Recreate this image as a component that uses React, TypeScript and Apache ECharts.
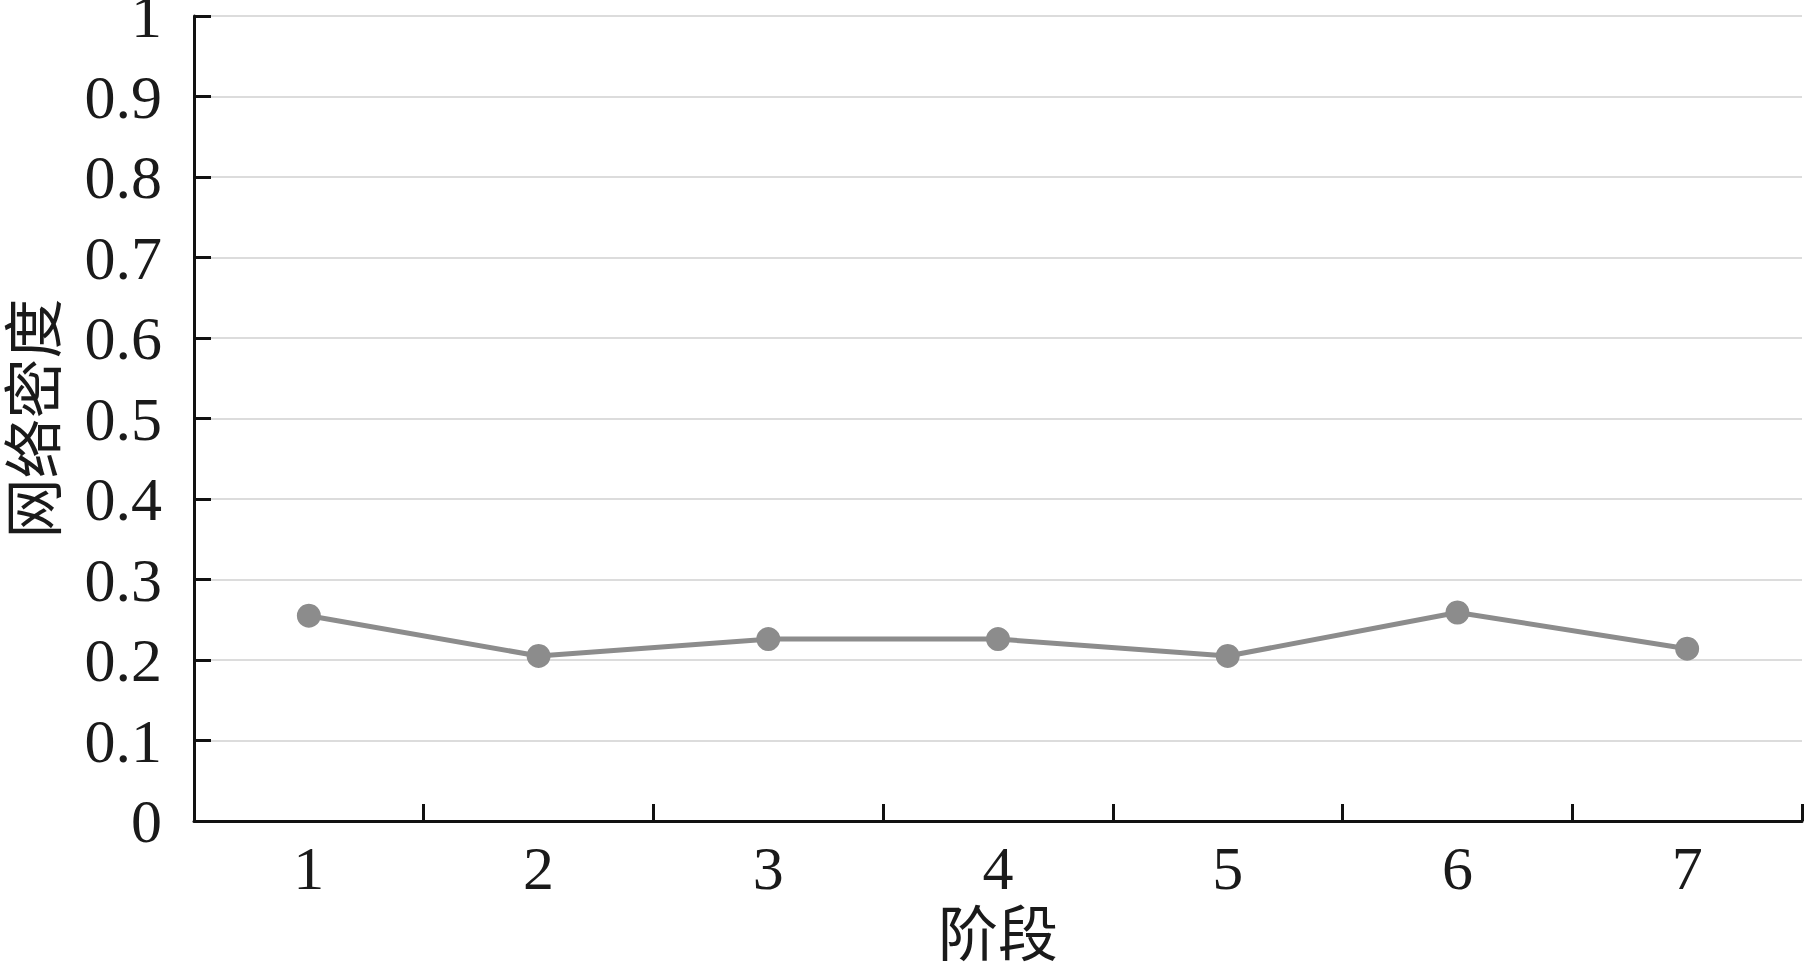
import React, { useEffect, useRef } from "react";
import * as echarts from "echarts";

const categories = ["1", "2", "3", "4", "5", "6", "7"];
const densityValues = [0.255, 0.205, 0.226, 0.226, 0.205, 0.259, 0.214];
const yTicks = [0, 0.1, 0.2, 0.3, 0.4, 0.5, 0.6, 0.7, 0.8, 0.9, 1];

const FONT = "'Liberation Serif', 'Noto Sans CJK SC', serif";

export default function App() {
  const ref = useRef<HTMLDivElement>(null);
  useEffect(() => {
    if (!ref.current) return;
    const chart = echarts.init(ref.current, null, { renderer: "svg" });
    chart.setOption({
      animation: false,
      backgroundColor: "#ffffff",
      grid: {
        left: 194,
        right: 9,
        top: 16,
        bottom: 152,
        containLabel: false,
        outerBoundsMode: "none",
      },
      xAxis: {
        type: "category",
        data: categories,
        boundaryGap: true,
        name: "阶段",
        nameLocation: "middle",
        nameGap: 85,
        nameTextStyle: { fontFamily: FONT, fontSize: 60, color: "#1a1a1a" },
        axisLine: { lineStyle: { color: "#111", width: 3 } },
        axisTick: { show: true, inside: true, length: 17, lineStyle: { color: "#111", width: 3 } },
        axisLabel: { fontFamily: FONT, fontSize: 62, color: "#1a1a1a", margin: 16 },
        splitLine: { show: false },
      },
      yAxis: {
        type: "value",
        min: yTicks[0],
        max: yTicks[yTicks.length - 1],
        interval: 0.1,
        name: "网络密度",
        nameLocation: "middle",
        nameRotate: 90,
        nameGap: 128,
        nameTextStyle: { fontFamily: FONT, fontSize: 60, color: "#1a1a1a" },
        axisLine: { show: true, lineStyle: { color: "#111", width: 3 } },
        axisTick: { show: true, inside: true, length: 17, lineStyle: { color: "#111", width: 3 } },
        axisLabel: {
          fontFamily: FONT,
          fontSize: 62,
          color: "#1a1a1a",
          margin: 32,
          formatter: (v: number) => String(Math.round(v * 10) / 10),
        },
        splitLine: { show: true, lineStyle: { color: "#dcdcdc", width: 2 } },
      },
      series: [
        {
          type: "line",
          data: densityValues,
          symbol: "circle",
          symbolSize: 24,
          lineStyle: { color: "#8c8c8c", width: 5 },
          itemStyle: { color: "#8c8c8c" },
        },
      ],
    });
    return () => chart.dispose();
  }, []);
  return (
    <div
      ref={ref}
      style={{ position: "fixed", left: 0, top: 0, width: 1811, height: 973, background: "#fff" }}
    />
  );
}
